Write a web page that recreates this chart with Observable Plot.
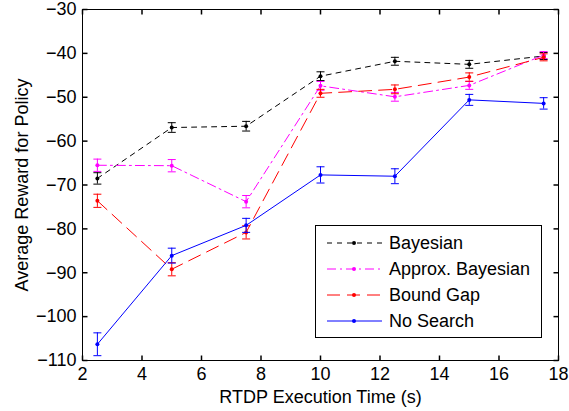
<!DOCTYPE html>
<html><head><meta charset="utf-8">
<script src="https://cdn.jsdelivr.net/npm/d3@7"></script>
<script src="https://cdn.jsdelivr.net/npm/@observablehq/plot@0.6"></script>
<style>
body{margin:0;background:#fff;}
#chart{position:relative;width:569px;height:411px;}
</style>
</head><body><div id="chart"></div>
<script>
const times = [2.5, 5, 7.5, 10, 12.5, 15, 17.5];
const seriesNames = ["Bayesian", "Approx. Bayesian", "Bound Gap", "No Search"];
const bayesian = [-68.5, -56.9, -56.6, -45.2, -41.8, -42.5, -40.6];
const bayesianErr = [1.3, 1.1, 1.1, 1.0, 0.9, 0.9, 0.8];
const approxBayesian = [-65.5, -65.6, -73.8, -47.4, -49.9, -47.3, -40.4];
const approxBayesianErr = [1.4, 1.4, 1.4, 1.0, 1.0, 0.9, 0.8];
const boundGap = [-73.6, -89.2, -80.8, -49.1, -48.2, -45.4, -40.9];
const boundGapErr = [1.5, 1.5, 1.5, 0.9, 1.0, 0.95, 0.8];
const noSearch = [-106.3, -86.1, -79.2, -67.7, -68.0, -50.6, -51.4];
const noSearchErr = [2.6, 1.7, 1.6, 1.85, 1.7, 1.25, 1.3];
const xTicks = [2, 4, 6, 8, 10, 12, 14, 16, 18];
const yTicks = [-110, -100, -90, -80, -70, -60, -50, -40, -30];

const styles = [
  {color: "#000000", dash: "5,5"},
  {color: "#ff00ff", dash: "9,4,2,4"},
  {color: "#ff0000", dash: "13,7"},
  {color: "#0000ff", dash: null}
];
const allValues = [bayesian, approxBayesian, boundGap, noSearch];
const allErrs = [bayesianErr, approxBayesianErr, boundGapErr, noSearchErr];

const series = seriesNames.map((name, k) => ({
  name, ...styles[k],
  rows: times.map((t, i) => ({x: t, y: allValues[k][i], e: allErrs[k][i]}))
}));

const cap = {draw(ctx) { ctx.moveTo(-4, 0); ctx.lineTo(4, 0); }};
const tickUp = {draw(ctx) { ctx.moveTo(0, 0); ctx.lineTo(0, -5); }};
const tickDown = {draw(ctx) { ctx.moveTo(0, 0); ctx.lineTo(0, 5); }};
const tickRight = {draw(ctx) { ctx.moveTo(0, 0); ctx.lineTo(5, 0); }};
const tickLeft = {draw(ctx) { ctx.moveTo(0, 0); ctx.lineTo(-5, 0); }};
const fmt = d => d < 0 ? "\u2212" + Math.abs(d) : String(d);

const marks = [];
for (const s of series) {
  marks.push(
    Plot.ruleX(s.rows, {x: "x", y1: d => d.y - d.e, y2: d => d.y + d.e, stroke: s.color, strokeWidth: 1}),
    Plot.dot(s.rows, {x: "x", y: d => d.y - d.e, symbol: cap, stroke: s.color, strokeWidth: 1, r: 4}),
    Plot.dot(s.rows, {x: "x", y: d => d.y + d.e, symbol: cap, stroke: s.color, strokeWidth: 1, r: 4}),
    Plot.line(s.rows, {x: "x", y: "y", stroke: s.color, strokeWidth: 1, strokeDasharray: s.dash}),
    Plot.dot(s.rows, {x: "x", y: "y", r: 2, fill: s.color, stroke: null})
  );
}

const chart = Plot.plot({
  width: 569, height: 411,
  marginLeft: 82, marginRight: 11, marginTop: 9, marginBottom: 51,
  style: {fontSize: "18px", fontFamily: "'Liberation Sans', Arial, sans-serif", background: "#fff", color: "#000"},
  x: {domain: [2, 18]},
  y: {domain: [-110, -30]},
  marks: [
    ...marks,
    Plot.axisX(xTicks, {tickSize: 0, tickPadding: 7, tickFormat: fmt, label: "RTDP Execution Time (s)", labelAnchor: "center", labelOffset: 42, labelArrow: "none"}),
    Plot.axisY(yTicks, {tickSize: 0, tickPadding: 6, tickFormat: fmt, label: "Average Reward for Policy", labelAnchor: "center", labelOffset: 67, labelArrow: "none"}),
    Plot.dot(xTicks, {x: d => d, frameAnchor: "bottom", symbol: tickUp, stroke: "#000", r: 5}),
    Plot.dot(xTicks, {x: d => d, frameAnchor: "top", symbol: tickDown, stroke: "#000", r: 5}),
    Plot.dot(yTicks, {y: d => d, frameAnchor: "left", symbol: tickRight, stroke: "#000", r: 5}),
    Plot.dot(yTicks, {y: d => d, frameAnchor: "right", symbol: tickLeft, stroke: "#000", r: 5}),
    Plot.frame({stroke: "#000", strokeWidth: 1})
  ]
});
document.getElementById("chart").appendChild(chart);

// legend
const svg = d3.select(chart);
const lg = svg.append("g").attr("font-size", 18).attr("font-family", "'Liberation Sans', Arial, sans-serif").attr("text-anchor", "start");
lg.append("rect").attr("x", 315.5).attr("y", 225.5).attr("width", 226).attr("height", 112)
  .attr("fill", "#fff").attr("stroke", "#000").attr("stroke-width", 1);
series.forEach((s, i) => {
  const y = 243 + i * 26;
  lg.append("line").attr("x1", 327).attr("x2", 382).attr("y1", y).attr("y2", y)
    .attr("stroke", s.color).attr("stroke-width", 1).attr("stroke-dasharray", s.dash);
  lg.append("circle").attr("cx", 354).attr("cy", y).attr("r", 2).attr("fill", s.color);
  lg.append("text").attr("x", 389).attr("y", y).attr("dy", "0.35em").attr("text-anchor", "start").attr("fill", "#000").text(s.name);
});
</script>
</body></html>
